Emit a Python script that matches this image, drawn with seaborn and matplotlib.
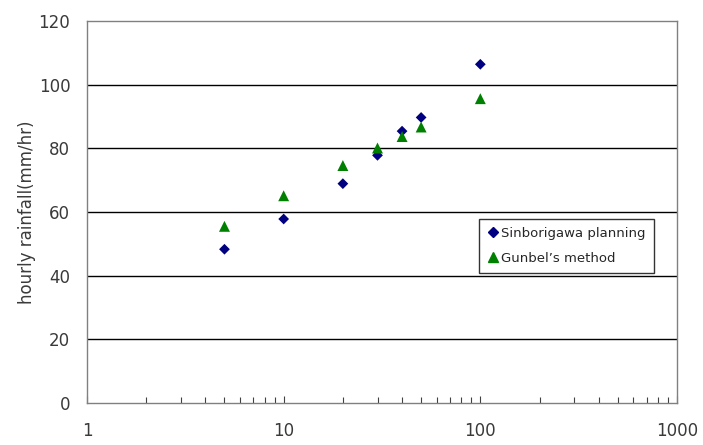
import matplotlib
matplotlib.use("Agg")
import matplotlib.pyplot as plt
import seaborn as sns
import pandas as pd
from matplotlib.ticker import LogLocator, FixedLocator, NullFormatter

return_period = [5, 10, 20, 30, 40, 50, 100]
sinborigawa = [48.3, 57.8, 68.9, 77.8, 85.4, 89.7, 106.4]
gunbel = [55.5, 65.1, 74.6, 80.1, 83.7, 86.7, 95.6]
series_names = ["Sinborigawa planning", "Gunbel\u2019s method"]
y_ticks = [0, 20, 40, 60, 80, 100, 120]
x_ticks = [1, 10, 100, 1000]

df = pd.DataFrame({
    "x": return_period + return_period,
    "y": sinborigawa + gunbel,
    "series": [series_names[0]] * len(return_period) + [series_names[1]] * len(return_period),
})

sns.set_style("white")
plt.rcParams["font.family"] = ["DejaVu Sans"]

fig = plt.figure(figsize=(7.03, 4.45), dpi=100)
ax = fig.add_axes([87 / 703, 1 - 403 / 445, 590 / 703, 382 / 445])

sns.scatterplot(
    data=df, x="x", y="y", hue="series", style="series",
    markers={series_names[0]: "D", series_names[1]: "^"},
    palette={series_names[0]: "#000080", series_names[1]: "#008000"},
    size="series", sizes={series_names[0]: 30, series_names[1]: 62},
    linewidth=0, ax=ax, zorder=3, legend=False,
)

ax.set_xscale("log")
ax.set_xlim(1, 1000)
ax.set_ylim(0, 120)
ax.set_yticks(y_ticks)
ax.set_yticklabels([str(v) for v in y_ticks])
ax.xaxis.set_major_locator(FixedLocator(x_ticks))
ax.set_xticklabels([str(v) for v in x_ticks])
ax.xaxis.set_minor_locator(LogLocator(base=10, subs=range(2, 10)))
ax.xaxis.set_minor_formatter(NullFormatter())

for v in y_ticks[1:-1]:
    ax.axhline(v, color="black", linewidth=1.0, zorder=1)

for sp in ax.spines.values():
    sp.set_color("#808080")
    sp.set_linewidth(1.0)
    sp.set_visible(True)

ax.tick_params(axis="x", which="both", bottom=True, top=False)
ax.tick_params(axis="x", which="major", direction="in", length=5, width=0.8, color="#404040",
               labelsize=12, labelcolor="#3a3a3a", pad=14)
ax.tick_params(axis="x", which="minor", direction="in", length=4, width=0.8, color="#404040")
ax.tick_params(axis="y", which="major", length=0, labelsize=12, labelcolor="#3a3a3a", pad=12)

ax.set_xlabel("")
ax.set_ylabel("hourly rainfall(mm/hr)", fontsize=12, color="#3a3a3a", labelpad=2)

handles = [
    plt.Line2D([], [], marker="D", linestyle="none", color="#000080", markersize=5),
    plt.Line2D([], [], marker="^", linestyle="none", color="#008000", markersize=7),
]
leg = ax.legend(handles, series_names, loc="upper left", bbox_to_anchor=(0.664, 0.482),
                frameon=True, fancybox=False, edgecolor="black", fontsize=9.5,
                handletextpad=0.1, handlelength=1.0, borderpad=0.6, labelspacing=0.9,
                borderaxespad=0)
leg.get_frame().set_linewidth(1.0)

fig.savefig("out.png", dpi=100, facecolor="white")
